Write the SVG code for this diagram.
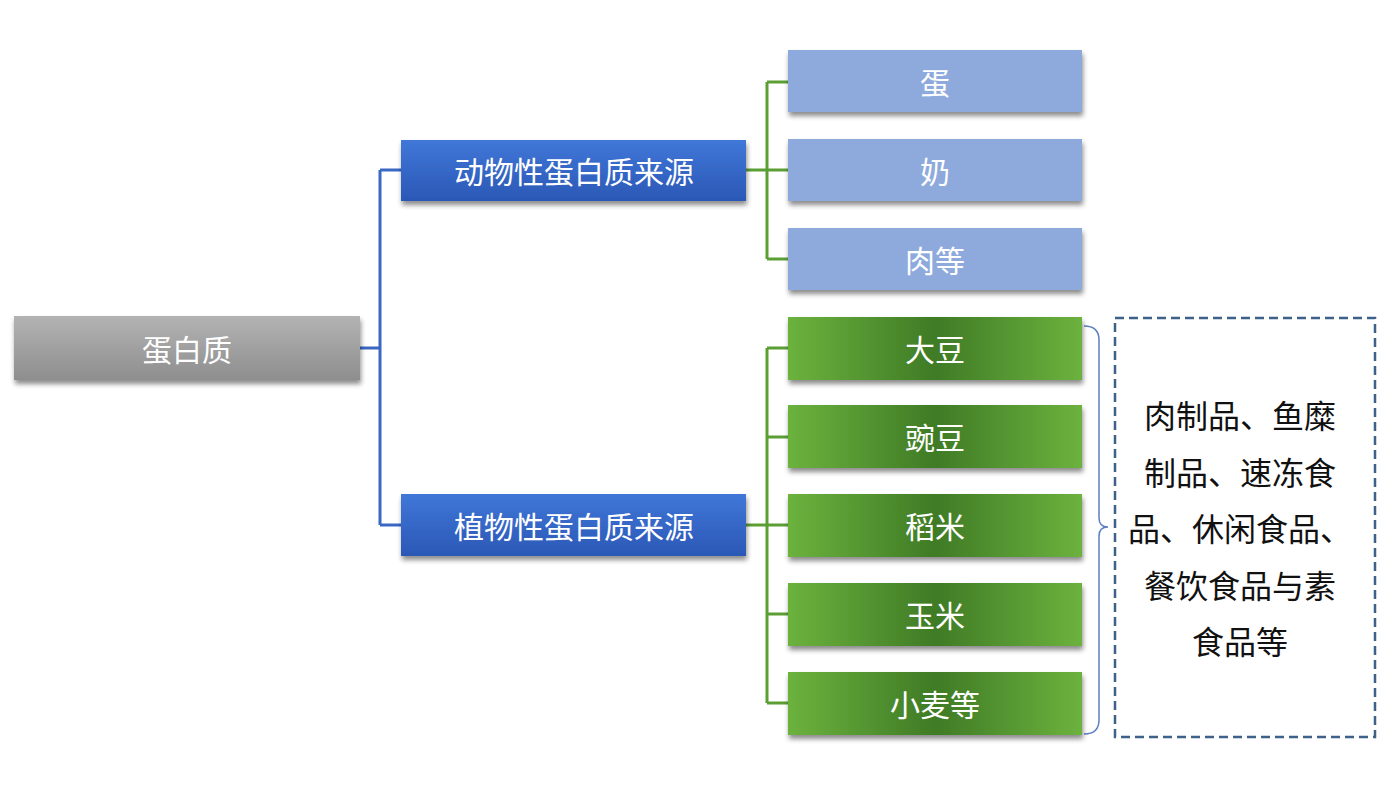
<svg xmlns="http://www.w3.org/2000/svg" width="1377" height="785" viewBox="0 0 1377 785">
<defs>
<linearGradient id="gGray" x1="0" y1="0" x2="0" y2="1">
<stop offset="0" stop-color="#b3b3b3"/><stop offset="1" stop-color="#8e8e8e"/>
</linearGradient>
<linearGradient id="gBlue" x1="0" y1="0" x2="0" y2="1">
<stop offset="0" stop-color="#4077d8"/><stop offset="1" stop-color="#2b58b6"/>
</linearGradient>
<linearGradient id="gGreen" x1="0" y1="0" x2="1" y2="0">
<stop offset="0" stop-color="#6cb23d"/><stop offset="0.5" stop-color="#3f7b26"/><stop offset="1" stop-color="#6cb23d"/>
</linearGradient>
<filter id="sh" x="-5%" y="-20%" width="110%" height="150%">
<feDropShadow dx="1" dy="4" stdDeviation="2.5" flood-color="#000" flood-opacity="0.45"/>
</filter>
</defs>
<style>
.t{font-family:"Noto Sans CJK SC","Noto Sans",sans-serif;font-size:30px;fill:#ffffff;text-anchor:middle;dominant-baseline:central}
.d{font-family:"Noto Sans CJK SC","Noto Sans",sans-serif;font-size:32px;fill:#111111;text-anchor:middle;dominant-baseline:central}
.gray{fill:url(#gGray);filter:url(#sh)}
.blue{fill:url(#gBlue);filter:url(#sh)}
.lb{fill:#8eaadd;filter:url(#sh)}
.gr{fill:url(#gGreen);filter:url(#sh)}
.cb{fill:none;stroke:#3a66c4;stroke-width:3}
.cg{fill:none;stroke:#5a9e34;stroke-width:3}
</style>
<rect width="1377" height="785" fill="#ffffff"/>
<g id="connectors">
<path class="cb" d="M360,348 H380 M380,170 V525 M380,170 H401 M380,525 H401"/>
<path class="cg" d="M746,170 H767 M767,82 V259 M767,82 H788 M767,170 H788 M767,259 H788"/>
<path class="cg" d="M746,525 H767 M767,348 V703 M767,348 H788 M767,437 H788 M767,525 H788 M767,614 H788 M767,703 H788"/>
<path fill="none" stroke="#5b7fc0" stroke-width="1.5" d="M1084,326 Q1099,326 1099,340 V518 Q1099,527 1108,527 Q1099,527 1099,536 V720 Q1099,734 1084,734"/>
</g>
<g id="root"><rect class="gray" x="14" y="316" width="346" height="64"/><text class="t" x="187" y="348">蛋白质</text></g>
<g id="animal"><rect class="blue" x="401" y="140" width="345" height="61"/><text class="t" x="574" y="170">动物性蛋白质来源</text></g>
<g id="plant"><rect class="blue" x="401" y="494" width="345" height="62"/><text class="t" x="574" y="525">植物性蛋白质来源</text></g>
<g id="egg"><rect class="lb" x="788" y="50" width="294" height="62"/><text class="t" x="935" y="81">蛋</text></g>
<g id="milk"><rect class="lb" x="788" y="139" width="294" height="62"/><text class="t" x="935" y="170">奶</text></g>
<g id="meat"><rect class="lb" x="788" y="228" width="294" height="62"/><text class="t" x="935" y="259">肉等</text></g>
<g id="soy"><rect class="gr" x="788" y="317" width="294" height="63"/><text class="t" x="935" y="348">大豆</text></g>
<g id="pea"><rect class="gr" x="788" y="405" width="294" height="63"/><text class="t" x="935" y="436">豌豆</text></g>
<g id="rice"><rect class="gr" x="788" y="494" width="294" height="63"/><text class="t" x="935" y="525">稻米</text></g>
<g id="corn"><rect class="gr" x="788" y="583" width="294" height="63"/><text class="t" x="935" y="614">玉米</text></g>
<g id="wheat"><rect class="gr" x="788" y="672" width="294" height="63"/><text class="t" x="935" y="703">小麦等</text></g>
<g id="products">
<rect x="1115" y="318" width="260" height="419" fill="#ffffff" stroke="#3d6189" stroke-width="2.5" stroke-dasharray="9,5"/>
<text class="d" x="1240" y="414">肉制品、鱼糜</text>
<text class="d" x="1240" y="471">制品、速冻食</text>
<text class="d" x="1240" y="527">品、休闲食品、</text>
<text class="d" x="1240" y="584">餐饮食品与素</text>
<text class="d" x="1240" y="640">食品等</text>
</g>
</svg>
